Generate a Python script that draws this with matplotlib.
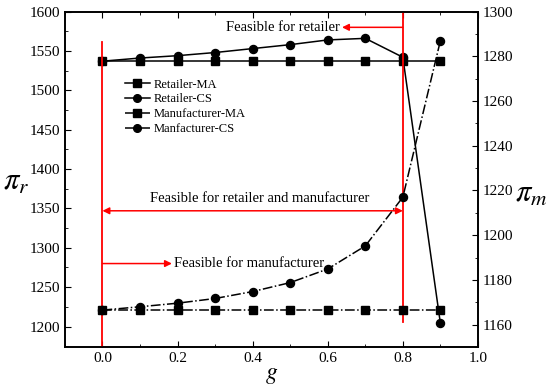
import matplotlib
matplotlib.use("Agg")
import matplotlib.pyplot as plt
from matplotlib.ticker import MultipleLocator

plt.rcParams['font.family'] = ['Liberation Serif', 'DejaVu Serif']
plt.rcParams['mathtext.fontset'] = 'stix'

g = [0.0, 0.1, 0.2, 0.3, 0.4, 0.5, 0.6, 0.7, 0.8, 0.9]
retailer_ma = [1537, 1537, 1537, 1537, 1537, 1537, 1537, 1537, 1537, 1537]
retailer_cs = [1537, 1541, 1544, 1548, 1553, 1558, 1564, 1566, 1542, 1204]
manufacturer_ma = [1166.5] * 10
manufacturer_cs = [1166.5, 1168, 1169.6, 1171.7, 1174.8, 1178.8, 1184.9, 1195.2, 1217, 1287]

fig = plt.figure(figsize=(5.5, 3.86), dpi=100)
ax = fig.add_axes([0.118, 0.101, 0.751, 0.869])
ax2 = ax.twinx()

ms = 5.8
l1, = ax.plot(g, retailer_ma, '-', color='black', marker='s', ms=ms, lw=1.1, label='Retailer-MA')
l2, = ax.plot(g, retailer_cs, '-', color='black', marker='o', ms=ms, lw=1.1, label='Retailer-CS')
l3, = ax2.plot(g, manufacturer_ma, '-.', color='black', marker='s', ms=ms, lw=1.1, label='Manufacturer-MA')
l4, = ax2.plot(g, manufacturer_cs, '-.', color='black', marker='o', ms=ms, lw=1.1, label='Manfacturer-CS')

ax.set_xlim(-0.1, 1.0)
ax.set_ylim(1174, 1600)
ax2.set_ylim(1150, 1300)

red = '#ff0000'
# vertical red lines
ax.plot([0, 0], [1174, 1561], color=red, lw=1.3, zorder=5)
ax.plot([0.8, 0.8], [1600, 1206], color=red, lw=1.3, zorder=5)

# arrows
ax.annotate('', xy=(0.638, 1580), xytext=(0.8, 1580),
            arrowprops=dict(arrowstyle='-|>', color=red, lw=1.1, mutation_scale=10,
                            shrinkA=0, shrinkB=0))
ax.text(0.633, 1580, 'Feasible for retailer', ha='right', va='center', fontsize=10.5)

ax.annotate('', xy=(0.0, 1347), xytext=(0.8, 1347),
            arrowprops=dict(arrowstyle='<|-|>', color=red, lw=1.1, mutation_scale=10,
                            shrinkA=0, shrinkB=0))
ax.text(0.42, 1363, 'Feasible for retailer and manufacturer', ha='center', va='center', fontsize=10.5)

ax.annotate('', xy=(0.185, 1280), xytext=(0.0, 1280),
            arrowprops=dict(arrowstyle='-|>', color=red, lw=1.1, mutation_scale=10,
                            shrinkA=0, shrinkB=0))
ax.text(0.19, 1280, 'Feasible for manufacturer', ha='left', va='center', fontsize=10.5)

# ticks
ax.xaxis.set_major_locator(MultipleLocator(0.2))
ax.xaxis.set_minor_locator(MultipleLocator(0.1))
ax.xaxis.set_major_formatter(matplotlib.ticker.FormatStrFormatter('%.1f'))
ax.yaxis.set_major_locator(MultipleLocator(50))
ax.yaxis.set_minor_locator(MultipleLocator(25))
ax2.yaxis.set_major_locator(MultipleLocator(20))
ax2.yaxis.set_minor_locator(MultipleLocator(10))
ax.tick_params(axis='both', which='both', direction='in', labelsize=11, top=True)
ax.tick_params(which='major', length=4)
ax.tick_params(which='minor', length=2.5)
ax2.tick_params(axis='y', which='both', direction='in', labelsize=11)
ax2.tick_params(which='major', length=4)
ax2.tick_params(which='minor', length=2.5)

for a in (ax, ax2):
    for s in a.spines.values():
        s.set_linewidth(1.2)

ax.set_xlabel(r'$g$', fontsize=17, labelpad=0)
ax.set_ylabel(r'$\pi_r$', fontsize=22, rotation=0, va='center', ha='center')
ax.yaxis.set_label_coords(-0.118, 0.49)
ax2.set_ylabel(r'$\pi_m$', fontsize=22, rotation=0, va='center', ha='center')
ax2.yaxis.set_label_coords(1.13, 0.455)

leg = ax.legend(handles=[l1, l2, l3, l4], loc='upper left', bbox_to_anchor=(0.145, 0.8),
                frameon=False, fontsize=9, handlelength=2.0, handletextpad=0.35,
                labelspacing=0.22, borderaxespad=0, borderpad=0, markerscale=0.95)

fig.savefig('out.png', dpi=100)
